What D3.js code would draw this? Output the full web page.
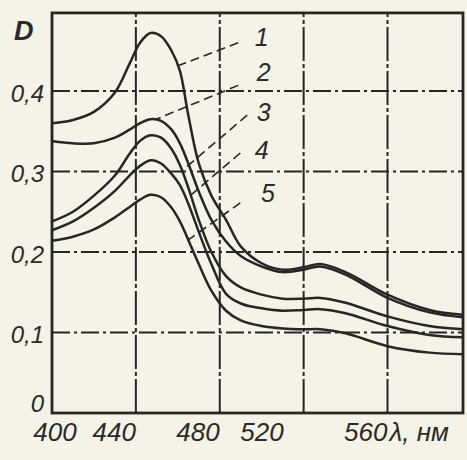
<!DOCTYPE html>
<html>
<head>
<meta charset="utf-8">
<script src="https://cdn.jsdelivr.net/npm/d3@7/dist/d3.min.js"></script>
<style>
    html, body { margin: 0; padding: 0; background: #f5f2e8; }
    svg { display: block; }
    text { font-family: "Liberation Sans Narrow", "Liberation Sans", "DejaVu Sans", sans-serif; font-style: italic; fill: #2a2a2a; }
</style>
</head>
<body>
<div id="chart"></div>
<script>
/*
 * Data
 * */
var wavelengths = [400, 410, 420, 430, 437, 442, 447, 452, 457, 461, 465, 470, 476, 483, 490, 500, 510, 520, 528, 540, 560, 580, 596];

var curve1 = [.360, .364, .374, .398, .434, .460, .472, .468, .450, .425, .370, .310, .270, .240, .207, .186, .178, .181, .185, .175, .147, .128, .122];
var curve2 = [.338, .335, .335, .342, .352, .360, .365, .363, .352, .335, .310, .275, .240, .213, .195, .182, .175, .178, .182, .172, .143, .125, .119];
var curve3 = [.238, .250, .270, .295, .322, .338, .345, .342, .328, .308, .280, .240, .200, .170, .156, .147, .142, .142, .143, .137, .120, .108, .104];
var curve4 = [.227, .238, .255, .276, .295, .307, .314, .310, .297, .283, .260, .225, .185, .148, .136, .130, .127, .128, .129, .124, .108, .097, .094];
var curve5 = [.214, .219, .228, .243, .256, .265, .271, .268, .255, .238, .215, .185, .152, .127, .115, .108, .105, .104, .104, .099, .083, .075, .073];

var seriesNames = ['1', '2', '3', '4', '5'];
var labelLambda = [500, 501, 501, 500, 503];
var labelD = [.467, .424, .374, .327, .273];
var leaderStartLambda = [488.8, 488.8, 493.1, 489.8, 489.8];
var leaderStartD = [.460, .407, .370, .323, .261];
var leaderEndLambda = [460, 449, 462, 464, 465];

var xTicks = [400, 440, 480, 520, 560];
var yTicks = [0, 0.1, 0.2, 0.3, 0.4];
var yTickLabels = ['0', '0,1', '0,2', '0,3', '0,4'];

var width = 467,
    height = 460,
    ink = '#262626';

/*
 * Scales
 * */
var x = d3.scaleLinear().domain([400, 596]).range([52, 463]);
var y = d3.scaleLinear().domain([0, 0.4]).range([413, 91]);
var yTop = 0.497;

function valueAt(series, lambda) {
    var i = d3.bisectLeft(wavelengths, lambda);
    if (i <= 0) return series[0];
    var t = (lambda - wavelengths[i - 1]) / (wavelengths[i] - wavelengths[i - 1]);
    return series[i - 1] + t * (series[i] - series[i - 1]);
}

var svg = d3.select('#chart')
    .append('svg')
    .attr('width', width)
    .attr('height', height);

/*
 * Grid
 * */
svg.append('g')
    .selectAll('line')
    .data(yTicks.filter(function (d) { return d > 0; }))
    .enter().append('line')
    .attr('x1', x(400)).attr('x2', x(596))
    .attr('y1', function (d) { return y(d); })
    .attr('y2', function (d) { return y(d); })
    .attr('stroke', ink)
    .attr('stroke-width', 2)
    .attr('stroke-dasharray', '18,4,3,4');

svg.append('g')
    .selectAll('line')
    .data(xTicks.filter(function (d) { return d > 400; }))
    .enter().append('line')
    .attr('x1', function (d) { return x(d); })
    .attr('x2', function (d) { return x(d); })
    .attr('y1', y(0)).attr('y2', y(yTop))
    .attr('stroke', ink)
    .attr('stroke-width', 2)
    .attr('stroke-dasharray', '34,3,4,3');

// frame
svg.append('rect')
    .attr('x', x(400))
    .attr('y', y(yTop))
    .attr('width', x(596) - x(400))
    .attr('height', y(0) - y(yTop))
    .attr('fill', 'none')
    .attr('stroke', ink)
    .attr('stroke-width', 2.8);

/*
 * Curves
 * */
var line = d3.line()
    .x(function (d, i) { return x(wavelengths[i]); })
    .y(function (d) { return y(d); })
    .curve(d3.curveCatmullRom.alpha(0.5));

var curves = [curve1, curve2, curve3, curve4, curve5];

svg.append('g')
    .selectAll('path')
    .data(curves)
    .enter().append('path')
    .attr('d', line)
    .attr('fill', 'none')
    .attr('stroke', ink)
    .attr('stroke-width', 2.5);

/*
 * Leaders and curve numbers
 * */
var leaders = svg.append('g');
curves.forEach(function (series, i) {
    leaders.append('line')
        .attr('x1', x(leaderStartLambda[i]))
        .attr('y1', y(leaderStartD[i]))
        .attr('x2', x(leaderEndLambda[i]))
        .attr('y2', y(valueAt(series, leaderEndLambda[i])))
        .attr('stroke', ink)
        .attr('stroke-width', 1.6)
        .attr('stroke-dasharray', '9,5');

    leaders.append('text')
        .attr('x', x(labelLambda[i]))
        .attr('y', y(labelD[i]))
        .attr('dy', '0.36em')
        .attr('text-anchor', 'middle')
        .attr('font-size', '25px')
        .text(seriesNames[i]);
});

/*
 * Axis labels
 * */
svg.append('g')
    .selectAll('text')
    .data(yTicks)
    .enter().append('text')
    .attr('x', 44)
    .attr('y', function (d) { return d === 0 ? y(d) - 10 : y(d) + 2; })
    .attr('dy', '0.36em')
    .attr('text-anchor', 'end')
    .attr('font-size', '24px')
    .text(function (d, i) { return yTickLabels[i]; });

svg.append('g')
    .selectAll('text')
    .data(xTicks)
    .enter().append('text')
    .attr('x', function (d, i) { return i === 0 ? x(d) + 3 : x(d) - (i === 3 ? 20 : 0); })
    .attr('y', 441)
    .attr('text-anchor', function (d, i) { return i === 0 ? 'middle' : 'end'; })
    .attr('font-size', '26px')
    .text(function (d) { return d; });

svg.append('text')
    .attr('x', x(560) + 2)
    .attr('y', 441)
    .attr('font-size', '26px')
    .text('λ, нм');

svg.append('text')
    .attr('x', 14)
    .attr('y', 40)
    .attr('font-size', '27px')
    .attr('font-weight', 'bold')
    .text('D');
</script>
</body>
</html>
